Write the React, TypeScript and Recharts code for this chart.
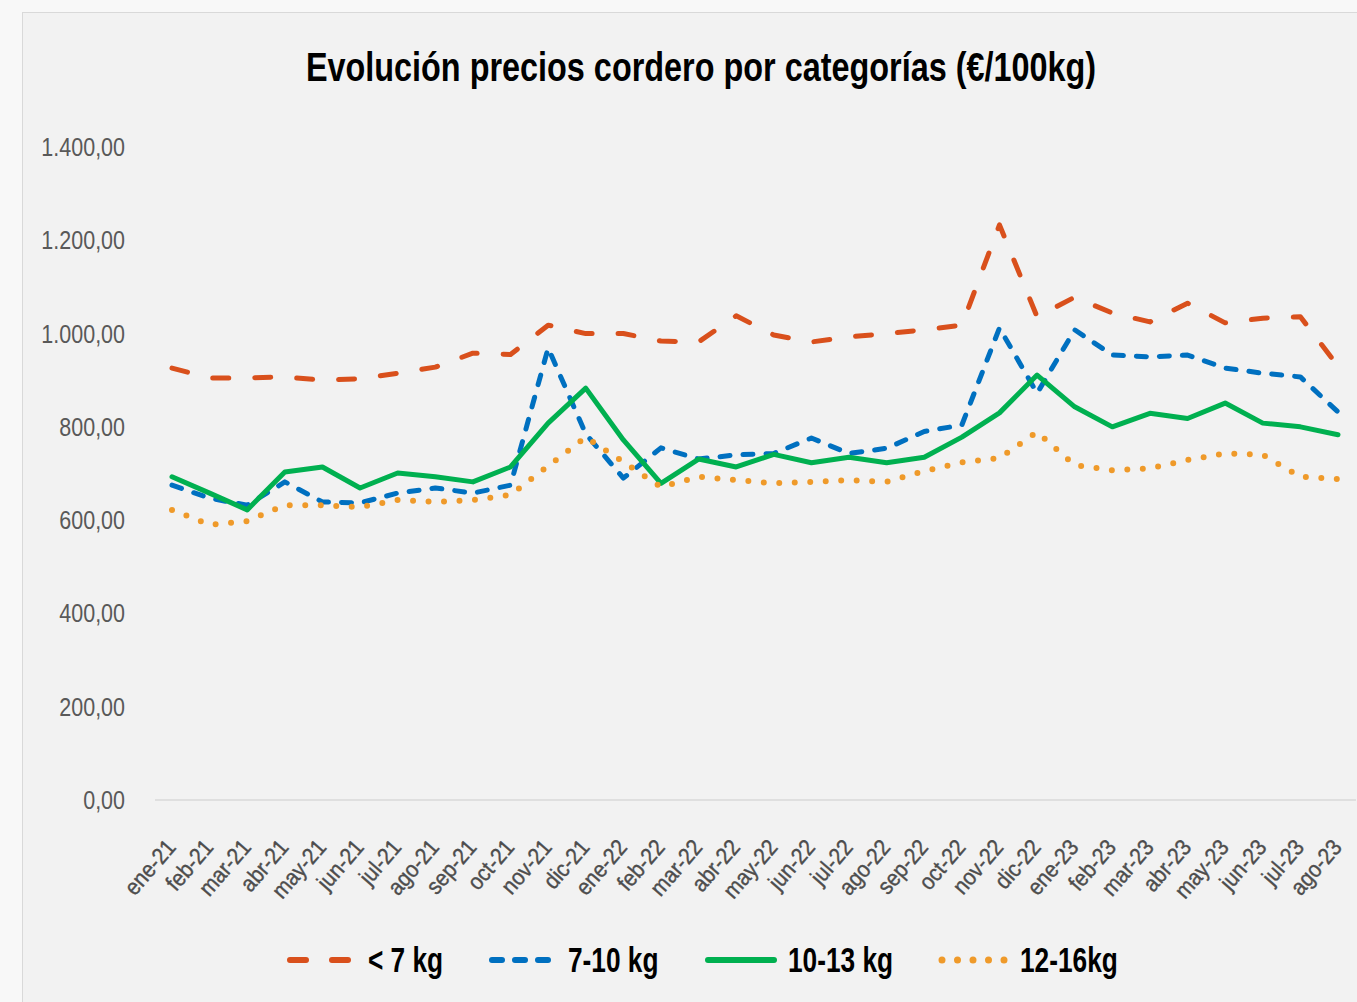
import React from "react";
import { LineChart, Line, XAxis, YAxis } from "recharts";

const months = [
  "ene-21", "feb-21", "mar-21", "abr-21", "may-21", "jun-21", "jul-21", "ago-21", "sep-21", "oct-21", "nov-21", "dic-21",
  "ene-22", "feb-22", "mar-22", "abr-22", "may-22", "jun-22", "jul-22", "ago-22", "sep-22", "oct-22", "nov-22", "dic-22",
  "ene-23", "feb-23", "mar-23", "abr-23", "may-23", "jun-23", "jul-23", "ago-23",
];
const lt7 = [926, 905, 905, 907, 900, 903, 915, 928, 958, 955, 1018, 1000, 1000, 984, 982, 1038, 997, 982, 993, 1000, 1008, 1018, 1233, 1036, 1078, 1044, 1025, 1065, 1023, 1033, 1036, 930];
const k7to10 = [675, 647, 632, 682, 639, 637, 658, 669, 658, 675, 969, 785, 690, 755, 731, 740, 743, 776, 743, 754, 790, 804, 1012, 872, 1008, 954, 950, 954, 926, 915, 907, 832];
const k10to13 = [693, 658, 622, 703, 714, 669, 701, 693, 682, 714, 808, 883, 772, 679, 731, 714, 741, 723, 735, 723, 735, 778, 830, 911, 843, 800, 829, 818, 851, 808, 800, 783];
const k12to16 = [622, 590, 598, 632, 632, 628, 643, 639, 643, 654, 716, 778, 725, 671, 693, 686, 679, 682, 686, 682, 705, 724, 733, 789, 718, 707, 711, 729, 743, 740, 693, 688];
const yTicks = [0, 200, 400, 600, 800, 1000, 1200, 1400];

const data = months.map((m, i) => ({
  month: m,
  lt7: lt7[i],
  k7to10: k7to10[i],
  k10to13: k10to13[i],
  k12to16: k12to16[i],
}));

const series = [
  { key: "lt7", name: "< 7 kg", color: "#d9501c", dash: "16 26", width: 5 },
  { key: "k7to10", name: "7-10 kg", color: "#0070c0", dash: "10 13", width: 5 },
  { key: "k10to13", name: "10-13 kg", color: "#00b050", dash: undefined as string | undefined, width: 5 },
  { key: "k12to16", name: "12-16kg", color: "#ef9a2a", dash: "0 15.5", width: 6 },
];
const legendPos = [
  { sx: 286, tx: 368 },
  { sx: 488, tx: 568 },
  { sx: 704, tx: 788 },
  { sx: 938, tx: 1020 },
];

const FONT = "'Liberation Sans', Arial, sans-serif";

const fmt = (v: number) => {
  const s = v.toFixed(2).split(".");
  const int = s[0].replace(/\B(?=(\d{3})+(?!\d))/g, ".");
  return `${int},${s[1]}`;
};

const XTick = (props: any) => {
  const { x, y, payload } = props;
  return (
    <g transform={`translate(${x + 5},${y + 40})`}>
      <text
        textAnchor="end"
        transform="rotate(-49) scale(0.9,1)"
        fill="#4d4d4d"
        stroke="#4d4d4d"
        strokeWidth={0.4}
        fontFamily={FONT}
        fontSize={23}
      >
        {payload.value}
      </text>
    </g>
  );
};

const YTick = (props: any) => {
  const { x, y, payload } = props;
  return (
    <g transform={`translate(${x},${y})`}>
      <text
        textAnchor="end"
        dy="0.36em"
        transform="scale(0.86,1)"
        fill="#595959"
        fontFamily={FONT}
        fontSize={25}
      >
        {fmt(payload.value)}
      </text>
    </g>
  );
};

export default function App() {
  return (
    <div
      style={{
        position: "absolute",
        left: 0,
        top: 0,
        width: 1357,
        height: 1002,
        background: "#f8f8f8",
        overflow: "hidden",
      }}
    >
      <div
        style={{
          position: "absolute",
          left: 22,
          top: 12,
          width: 1345,
          height: 1000,
          background: "#f2f2f2",
          border: "1px solid #d9d9d9",
        }}
      />
      <div
        style={{
          position: "absolute",
          left: 0,
          top: 40,
          width: 1402,
          textAlign: "center",
          fontFamily: FONT,
          fontWeight: "bold",
          fontSize: 41,
          color: "#000",
          lineHeight: "54px",
          transform: "scaleX(0.79)",
          transformOrigin: "701px 0",
        }}
      >
        Evolución precios cordero por categorías (€/100kg)
      </div>
      <div style={{ position: "absolute", left: 0, top: 0 }}>
        <LineChart
          width={1357}
          height={1002}
          data={data}
          margin={{ top: 147, right: 1, bottom: 92, left: 0 }}
        >
          <XAxis
            dataKey="month"
            interval={0}
            height={110}
            padding={{ left: 17, right: 18 }}
            axisLine={{ stroke: "#d9d9d9", strokeWidth: 1.5 }}
            tickLine={false}
            tick={<XTick />}
          />
          <YAxis
            width={155}
            domain={[0, 1400]}
            ticks={yTicks}
            interval={0}
            axisLine={false}
            tickLine={false}
            tickSize={0}
            tickMargin={30}
            tick={<YTick />}
          />
          {series.map((s) => (
            <Line
              key={s.key}
              type="linear"
              dataKey={s.key}
              name={s.name}
              stroke={s.color}
              strokeWidth={s.width}
              strokeDasharray={s.dash}
              strokeLinecap="round"
              strokeLinejoin="round"
              dot={false}
              activeDot={false}
              isAnimationActive={false}
            />
          ))}
        </LineChart>
      </div>
      {series.map((s, i) => (
        <React.Fragment key={s.key}>
          <svg
            width={74}
            height={20}
            style={{ position: "absolute", left: legendPos[i].sx, top: 950 }}
          >
            <line
              x1={4}
              y1={10}
              x2={70}
              y2={10}
              stroke={s.color}
              strokeWidth={s.width + 1}
              strokeDasharray={s.dash}
              strokeLinecap="round"
            />
          </svg>
          <div
            style={{
              position: "absolute",
              left: legendPos[i].tx,
              top: 936,
              height: 48,
              lineHeight: "48px",
              fontFamily: FONT,
              fontWeight: "bold",
              fontSize: 35,
              color: "#000",
              whiteSpace: "nowrap",
              transform: "scaleX(0.75)",
              transformOrigin: "0 0",
            }}
          >
            {s.name}
          </div>
        </React.Fragment>
      ))}
    </div>
  );
}
